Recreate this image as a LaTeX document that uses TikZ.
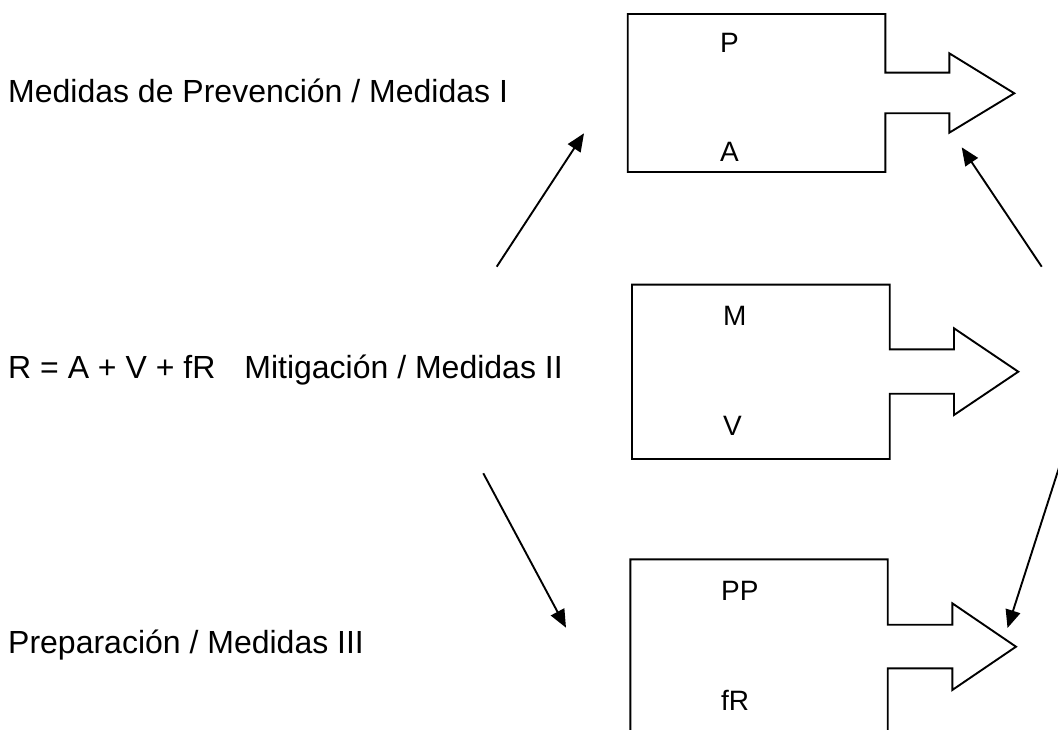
\documentclass[tikz,border=0pt]{standalone}
\usepackage{fontspec}
\setmainfont{Liberation Sans}
\usetikzlibrary{arrows.meta}
\begin{document}
\begin{tikzpicture}[x=1pt,y=-1pt,
  shapeline/.style={draw=black,line width=1.9pt,line join=miter},
  conn/.style={draw=black,line width=1.9pt,-{Triangle[length=18pt,width=15pt]}},
  lefttext/.style={anchor=base west,inner sep=0pt,font=\fontsize{32}{38}\selectfont},
  boxtext/.style={anchor=base west,inner sep=0pt,font=\fontsize{28}{34}\selectfont}]
\useasboundingbox[fill=white] (0,0) rectangle (1058,730);
\clip (0,0) rectangle (1058,730);
% left texts
\node[lefttext] (t1) at (8,103) {Medidas de Prevención / Medidas I};
\node[lefttext] (t2) at (8,378) {R = A + V + fR\hspace{29pt}Mitigación / Medidas II};
\node[lefttext] (t3) at (8,653) {Preparación / Medidas III};
% shape 1
\draw[shapeline] (627.7,14) -- (885.3,14) -- (885.3,72.7) -- (949.3,72.7) -- (949.3,53.3) -- (1014.3,93.3) -- (949.3,132.7) -- (949.3,113.3) -- (885.3,113.3) -- (885.3,172) -- (627.7,172) -- cycle;
\node[boxtext] (p) at (720,53) {P};
\node[boxtext] (a) at (720,162) {A};
% shape 2
\draw[shapeline] (632,284.7) -- (889.7,284.7) -- (889.7,349.3) -- (954,349.3) -- (954,328.3) -- (1018.3,371.7) -- (954,415) -- (954,393.7) -- (889.7,393.7) -- (889.7,459) -- (632,459) -- cycle;
\node[boxtext] (m) at (723,325) {M};
\node[boxtext] (v) at (723,435.5) {V};
% shape 3
\draw[shapeline] (630.3,745) -- (630.3,559.3) -- (887.7,559.3) -- (887.7,624.7) -- (952.3,624.7) -- (952.3,603.3) -- (1016,646.7) -- (952.3,690) -- (952.3,668.3) -- (887.7,668.3) -- (887.7,745);
\node[boxtext] (pp) at (721,600) {PP};
\node[boxtext] (fr) at (721,710) {fR};
% connectors
\coordinate (s1) at (496.7,266.7);
\coordinate (e1) at (584,133.3);
\coordinate (s2) at (483.3,473.3);
\coordinate (e2) at (566,627.7);
\coordinate (s3) at (1041.7,266.7);
\coordinate (e3) at (961.7,147.3);
\coordinate (s4) at (1060.5,463);
\coordinate (e4) at (1007.5,628);
\draw[conn] (s1) -- (e1);
\draw[conn] (s2) -- (e2);
\draw[conn] (s3) -- (e3);
\draw[conn] (s4) -- (e4);
\end{tikzpicture}
\end{document}
